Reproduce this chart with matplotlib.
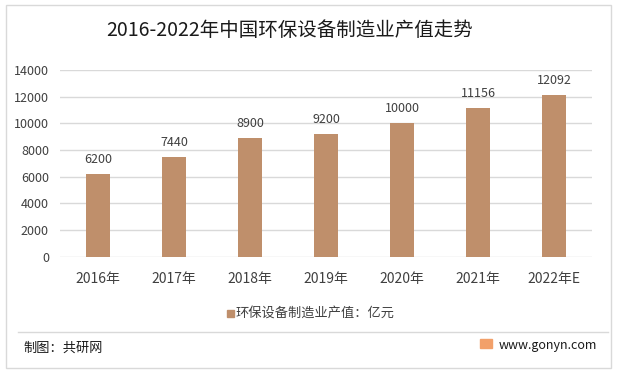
import matplotlib
matplotlib.use("Agg")
import matplotlib.pyplot as plt
from matplotlib.patches import Rectangle
from matplotlib.lines import Line2D

plt.rcParams['font.family'] = ['Noto Sans CJK SC', 'DejaVu Sans']

categories = ["2016年", "2017年", "2018年", "2019年", "2020年", "2021年", "2022年E"]
values = [6200, 7440, 8900, 9200, 10000, 11156, 12092]
yticks = [0, 2000, 4000, 6000, 8000, 10000, 12000, 14000]
title = "2016-2022年中国环保设备制造业产值走势"
series_name = "环保设备制造业产值：亿元"

W, H = 617, 375
fig = plt.figure(figsize=(W / 100, H / 100), dpi=100)
bar_color = "#BF8F6B"

# outer border
fig.patches.append(Rectangle((6 / W, 1 - 368 / H), 605 / W, 363 / H, transform=fig.transFigure,
                             fill=False, edgecolor="#D9D9D9", linewidth=1))
# separator line
fig.lines.append(Line2D([18 / W, 608 / W], [1 - 331.5 / H, 1 - 331.5 / H], transform=fig.transFigure,
                        color="#D9D9D9", linewidth=1))

ax = fig.add_axes([60 / W, 1 - 256.7 / H, 532 / W, 186.7 / H])
x = range(len(categories))
bars = ax.bar(x, values, width=0.315, color=bar_color, zorder=3)
ax.set_xlim(-0.5, len(categories) - 0.5)
ax.set_ylim(0, 14000)
ax.set_yticks(yticks)
ax.set_xticks(list(x))
ax.set_xticklabels(categories)
ax.grid(axis="y", color="#D9D9D9", linewidth=1, zorder=0)
for s in ax.spines.values():
    s.set_visible(False)
ax.tick_params(axis="both", length=0, labelsize=9, colors="#404040")
ax.tick_params(axis="x", pad=11, labelsize=10)
ax.tick_params(axis="y", pad=8)
for b, v in zip(bars, values):
    ax.annotate(f"{v}", (b.get_x() + b.get_width() / 2, v), xytext=(0, 6),
                textcoords="offset points", ha="center", va="bottom", fontsize=9, color="#404040")

fig.text(290 / W, 1 - 31 / H, title, ha="center", va="center", fontsize=14, color="#1a1a1a")

# legend
fig.patches.append(Rectangle((227 / W, 1 - 317 / H), 7 / W, 7 / H, transform=fig.transFigure,
                             color=bar_color))
fig.text(236 / W, 1 - 313.5 / H, series_name, ha="left", va="center", fontsize=9.5, color="#404040")

# footer
fig.text(23 / W, 1 - 348 / H, "制图：共研网", ha="left", va="center", fontsize=9.5, color="#1a1a1a")
fig.patches.append(Rectangle((480 / W, 1 - 348 / H), 12 / W, 9 / H, transform=fig.transFigure,
                             color="#F2A06A"))
fig.text(597 / W, 1 - 345 / H, "www.gonyn.com", ha="right", va="center", fontsize=9, color="#1a1a1a")

fig.savefig("out.png", dpi=100)
